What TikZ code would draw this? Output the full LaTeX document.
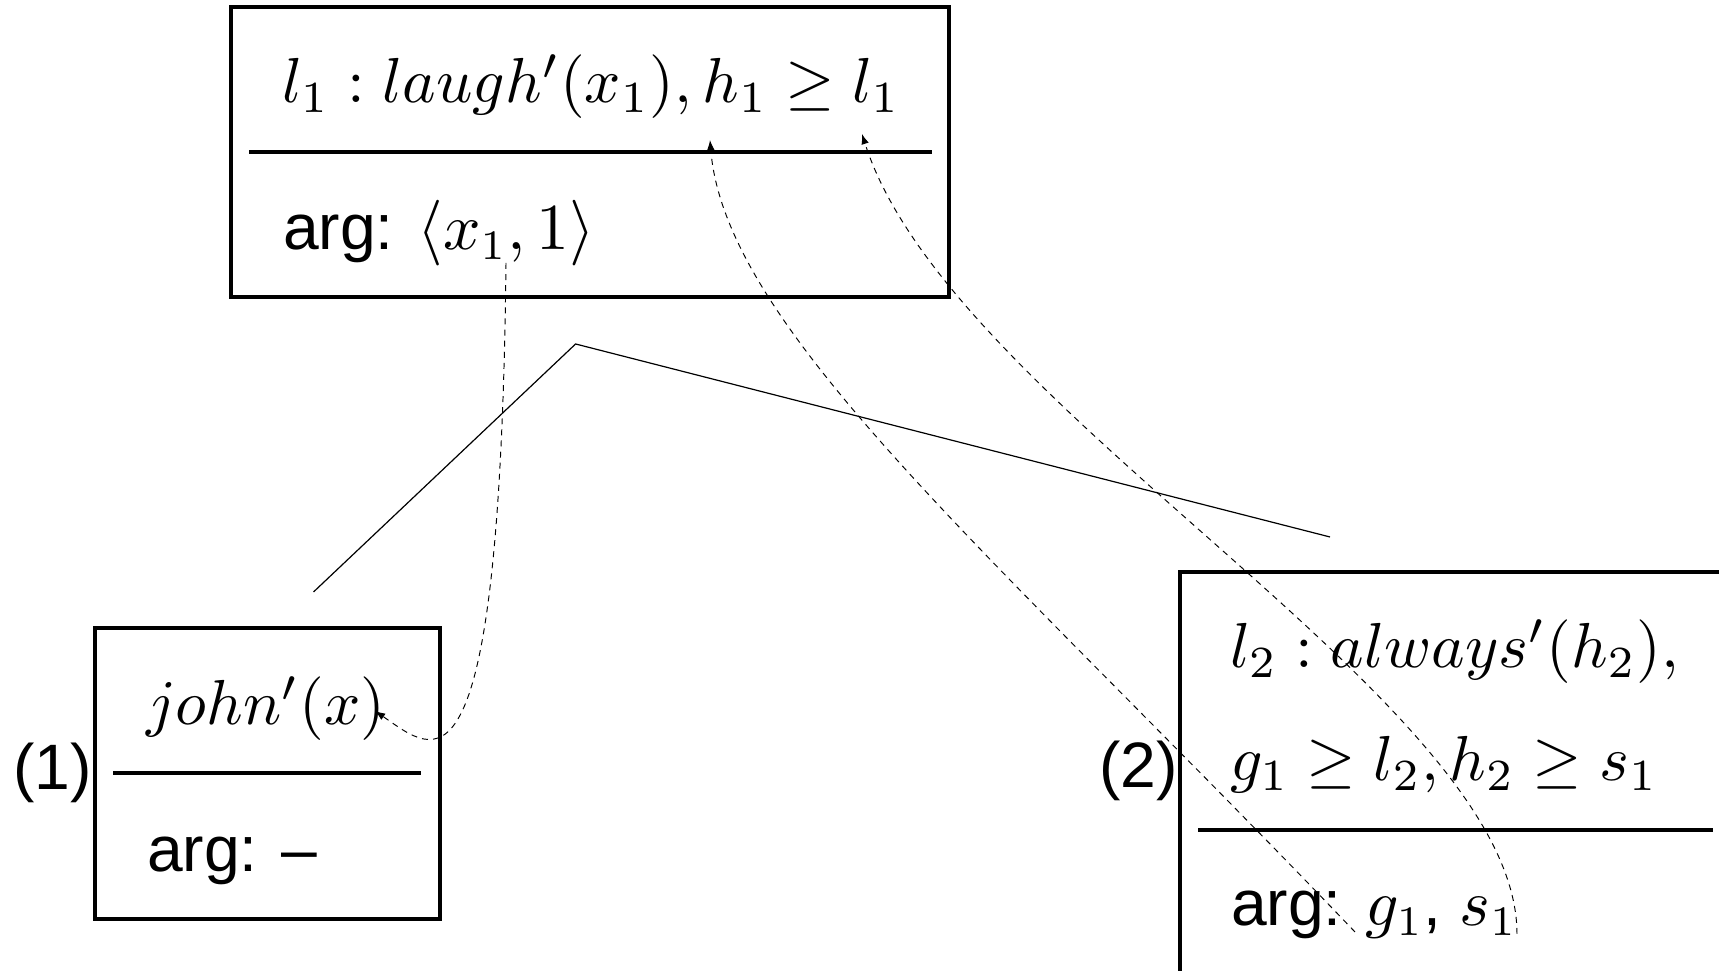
\documentclass[tikz,border=0pt]{standalone}
\usepackage{fontspec}
\setsansfont{Liberation Sans}
\usetikzlibrary{arrows.meta}
\newcommand{\mybigmath}[1]{\scalebox{1.06}{$#1$}}
\begin{document}
\begin{tikzpicture}[x=0.166667pt,y=-0.166667pt,
  box/.style={draw, line width=0.55pt, inner sep=0pt},
  sepline/.style={line width=0.52pt},
  treeline/.style={line width=0.2pt},
  link/.style={dash pattern=on 1pt off 0.85pt, line width=0.16pt, -{Latex[length=1.7pt,width=1.25pt]}},
  mtext/.style={font=\fontsize{10}{12}\selectfont, inner sep=0pt, anchor=base west},
  stext/.style={font=\fontsize{10.7}{12.8}\selectfont\sffamily, inner sep=0pt, anchor=base west},
  lbl/.style={font=\fontsize{10.7}{12.8}\selectfont\sffamily, inner sep=0pt, anchor=west}]
\clip (0,0) rectangle (1719,971);
\fill[white] (0,0) rectangle (1719,971);
% boxes
\node[box, minimum width=119.67pt, minimum height=48.33pt] (topbox) at (590,152) {};
\node[box, minimum width=57.5pt, minimum height=48.5pt] (leftbox) at (267.5,773.5) {};
\node[box, minimum width=91.67pt, minimum height=73pt] (rightbox) at (1455,791) {};
% dividers
\draw[sepline] (249,152) -- (932,152);
\draw[sepline] (113,773) -- (421,773);
\draw[sepline] (1198,830) -- (1713,830);
% texts
\node[mtext] (t1) at (281,103) {\mybigmath{l_1: laugh'(x_1), h_1 \geq l_1}};
\node[stext] (t2) at (282,250) {arg: $\langle x_1, 1\rangle$};
\node[mtext] (j1) at (145,725) {\mybigmath{john'(x)}};
\node[stext] (j2) at (146,872) {arg: --};
\node[mtext] (r1) at (1229,668) {\mybigmath{l_2: always'(h_2),}};
\node[mtext] (r2) at (1229,781) {\mybigmath{g_1 \geq l_2, h_2 \geq s_1}};
\node[stext] (r3) at (1230,926) {arg: $g_1$, $s_1$};
\node[lbl] (n1) at (12,773) {(1)};
\node[lbl] (n2) at (1098,771) {(2)};
% tree
\coordinate (apex) at (575.6,344);
\coordinate (lft) at (313.5,592);
\coordinate (rgt) at (1330,537);
\draw[treeline] (lft) -- (apex) -- (rgt);
% links
\coordinate (xsrc) at (506,263);
\coordinate (xdst) at (375,711);
\coordinate (gsrc) at (1355,932);
\coordinate (hdst) at (710,140);
\coordinate (ssrc) at (1517,934);
\coordinate (ldst) at (862,134);
\draw[link] (xsrc) .. controls (500,820) and (435,752) .. (xdst);
\draw[link] (gsrc) .. controls (1000,560) and (725,330) .. (hdst);
\draw[link] (ssrc) .. controls (1517,700) and (950,410) .. (ldst);
\end{tikzpicture}
\end{document}
